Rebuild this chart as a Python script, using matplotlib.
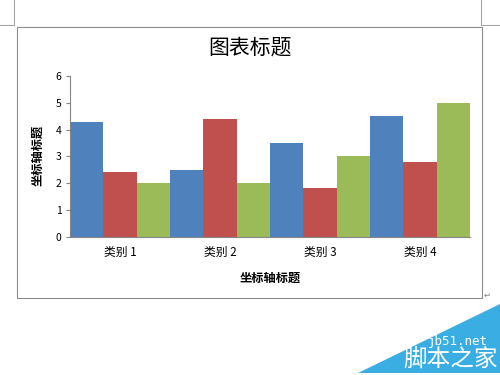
import matplotlib
matplotlib.use("Agg")
import matplotlib.pyplot as plt
from matplotlib.patches import Rectangle, Polygon
from matplotlib.lines import Line2D
import numpy as np

plt.rcParams['font.family'] = ['Noto Sans CJK SC', 'DejaVu Sans']

categories = ["类别 1", "类别 2", "类别 3", "类别 4"]
series1 = [4.3, 2.5, 3.5, 4.5]
series2 = [2.4, 4.4, 1.8, 2.8]
series3 = [2.0, 2.0, 3.0, 5.0]
colors = ["#4F81BD", "#C0504D", "#9BBB59"]
yticks = [0, 1, 2, 3, 4, 5, 6]

W, H = 500, 375
fig = plt.figure(figsize=(5, 3.75), dpi=100)

def fx(px):
    return px / W

def fy(py):
    return 1 - py / H

# page corner marks
for (x0, y0, x1, y1) in [(14, 0, 14, 25), (0, 25, 14, 25), (481, 0, 481, 25), (481, 25, 500, 25)]:
    fig.add_artist(Line2D([fx(x0), fx(x1)], [fy(y0), fy(y1)], color="#A6A6A6", lw=0.8))

# chart border
fig.add_artist(Rectangle((fx(17), fy(298)), fx(482) - fx(17), fy(27) - fy(298),
                         fill=False, edgecolor="#8C8C8C", lw=0.8))

ax = fig.add_axes([fx(70), fy(236.7), fx(470) - fx(70), fy(76) - fy(236.7)])
x = np.arange(len(categories))
w = 1 / 3
for i, s in enumerate([series1, series2, series3]):
    ax.bar(x + (i - 1) * w, s, width=w, color=colors[i], linewidth=0)

ax.set_xlim(-0.5, len(categories) - 0.5)
ax.set_ylim(0, 6)
ax.set_yticks(yticks)
ax.set_xticks(x)
ax.set_xticklabels(categories, fontsize=8.5)
ax.tick_params(axis='y', labelsize=7.5, length=3, color="#868686", pad=3)
ax.tick_params(axis='x', length=0, pad=7)
for sp in ["top", "right"]:
    ax.spines[sp].set_visible(False)
for sp in ["left", "bottom"]:
    ax.spines[sp].set_color("#868686")
    ax.spines[sp].set_linewidth(0.8)

fig.text(fx(250), fy(48), "图表标题", fontsize=15, ha="center", va="center")
fig.text(fx(270), fy(278), "坐标轴标题", fontsize=8.8, fontweight="bold", ha="center", va="center")
fig.text(fx(38), fy(155), "坐标轴标题", fontsize=8.8, fontweight="bold", ha="center", va="center", rotation=90)
fig.text(fx(487), fy(295), "↵", fontsize=6, color="#808080", ha="center", va="center", family=["DejaVu Sans"])

# watermark
fig.add_artist(Polygon([(fx(358), fy(373)), (fx(500), fy(304)), (fx(500), fy(373))],
                       closed=True, facecolor="#3AAEE2", edgecolor="none"))
fig.text(fx(488), fy(341), "jb51.net", fontsize=9, color="white", ha="right", va="center", family=["DejaVu Sans Mono"])
fig.text(fx(498), fy(359), "脚本之家", fontsize=17, color="white", ha="right", va="center")

fig.savefig("out.png", dpi=100)
